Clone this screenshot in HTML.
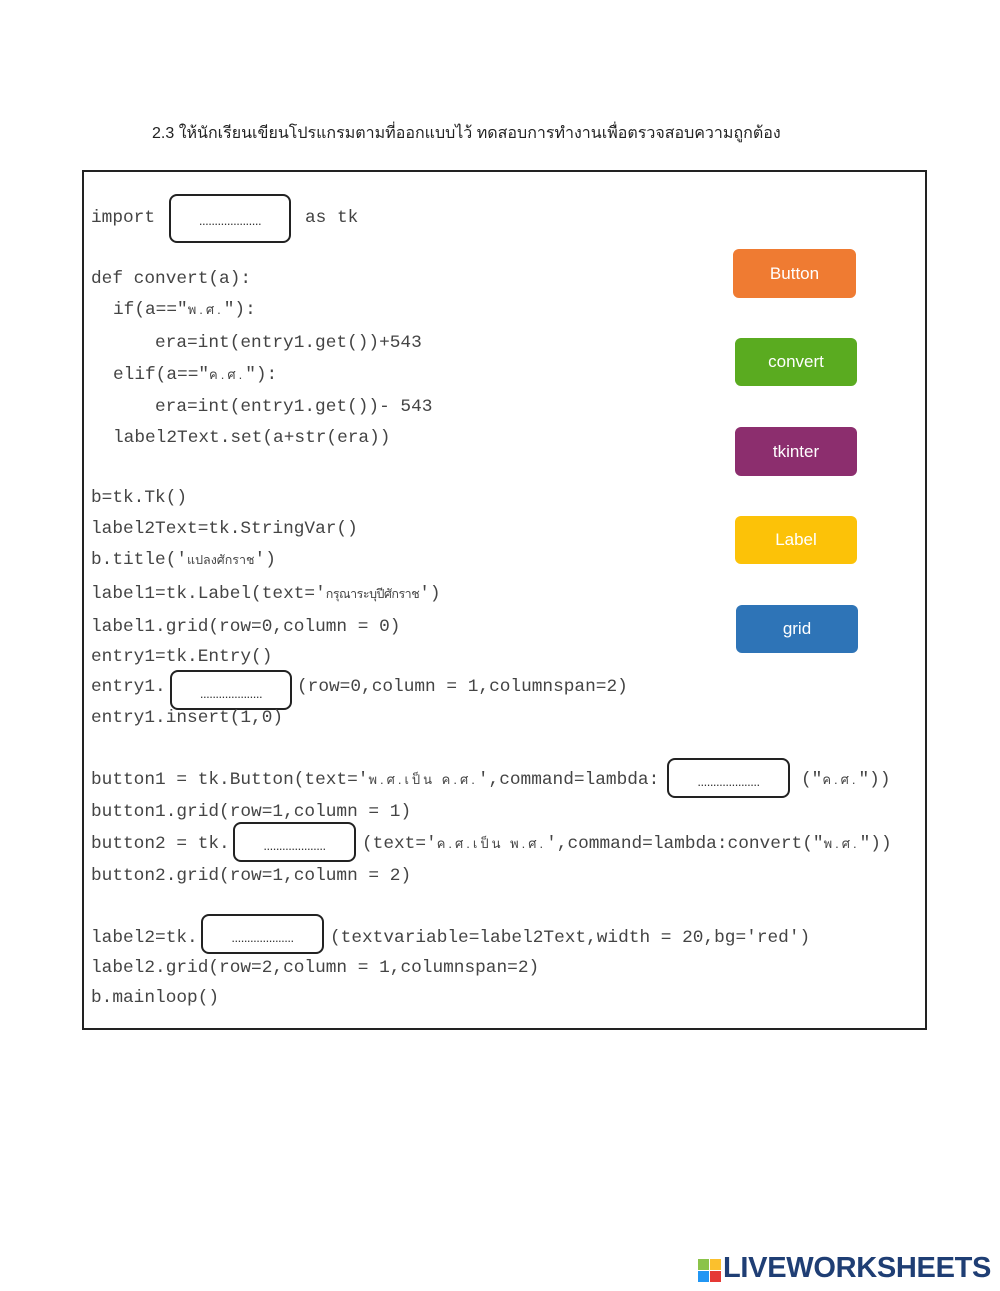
<!DOCTYPE html>
<html><head><meta charset="utf-8"><style>
body{margin:0;width:1000px;height:1291px;background:#fff;position:relative;overflow:hidden}
.c{position:absolute;font-family:"Liberation Mono","Noto Sans CJK SC",monospace;font-size:17.8px;color:#444;white-space:pre;line-height:20px}
.t{font-family:"Liberation Sans","DejaVu Sans",sans-serif;font-size:12.5px}
.s{font-family:"Liberation Sans","DejaVu Sans",sans-serif;font-size:13px;letter-spacing:3px}
.b{position:absolute;border:2px solid #222;border-radius:8px;box-sizing:border-box;text-align:center;font-family:"Liberation Sans",sans-serif;font-size:13px;color:#333;letter-spacing:-0.5px}
.btn{position:absolute;border-radius:6px;color:#fff;font-family:"Liberation Sans",sans-serif;font-size:17px;text-align:center;box-sizing:border-box}
</style></head><body>
<div style="position:absolute;left:152px;top:121px;font-family:'Liberation Sans','DejaVu Sans',sans-serif;font-size:16px;color:#222">2.3 ให้นักเรียนเขียนโปรแกรมตามที่ออกแบบไว้ ทดสอบการทำงานเพื่อตรวจสอบความถูกต้อง</div>
<div style="position:absolute;left:82px;top:170px;width:845px;height:860px;border:2px solid #222;box-sizing:border-box"></div>
<div class="c" style="left:91px;top:208px">import</div>
<div class="c" style="left:305px;top:208px">as tk</div>
<div class="b" style="left:169px;top:194px;width:122px;height:49px;line-height:50px">....................</div>
<div class="c" style="left:91px;top:269px">def convert(a):</div>
<div class="c" style="left:113px;top:300px">if(a=="<span class="s">พ.ศ.</span>"):</div>
<div class="c" style="left:155px;top:333px">era=int(entry1.get())+543</div>
<div class="c" style="left:113px;top:365px">elif(a=="<span class="s">ค.ศ.</span>"):</div>
<div class="c" style="left:155px;top:397px">era=int(entry1.get())- 543</div>
<div class="c" style="left:113px;top:428px">label2Text.set(a+str(era))</div>
<div class="c" style="left:91px;top:488px">b=tk.Tk()</div>
<div class="c" style="left:91px;top:519px">label2Text=tk.StringVar()</div>
<div class="c" style="left:91px;top:550px">b.title('<span class="t">แปลงศักราช</span>')</div>
<div class="c" style="left:91px;top:584px">label1=tk.Label(text='<span class="t" style="letter-spacing:-0.5px">กรุณาระบุปีศักราช</span>')</div>
<div class="c" style="left:91px;top:617px">label1.grid(row=0,column = 0)</div>
<div class="c" style="left:91px;top:647px">entry1=tk.Entry()</div>
<div class="c" style="left:91px;top:677px">entry1.</div>
<div class="b" style="left:170px;top:670px;width:122px;height:40px;line-height:44px">....................</div>
<div class="c" style="left:297px;top:677px">(row=0,column = 1,columnspan=2)</div>
<div class="c" style="left:91px;top:708px">entry1.insert(1,0)</div>
<div class="c" style="left:91px;top:770px">button1 = tk.Button(text='<span class="s">พ.ศ.เป็น ค.ศ.</span>',command=lambda:</div>
<div class="b" style="left:667px;top:758px;width:123px;height:40px;line-height:44px">....................</div>
<div class="c" style="left:801px;top:770px">("<span class="s">ค.ศ.</span>"))</div>
<div class="c" style="left:91px;top:802px">button1.grid(row=1,column = 1)</div>
<div class="c" style="left:91px;top:834px">button2 = tk.</div>
<div class="b" style="left:233px;top:822px;width:123px;height:40px;line-height:44px">....................</div>
<div class="c" style="left:362px;top:834px">(text='<span class="s">ค.ศ.เป็น พ.ศ.</span>',command=lambda:convert("<span class="s">พ.ศ.</span>"))</div>
<div class="c" style="left:91px;top:866px">button2.grid(row=1,column = 2)</div>
<div class="c" style="left:91px;top:928px">label2=tk.</div>
<div class="b" style="left:201px;top:914px;width:123px;height:40px;line-height:44px">....................</div>
<div class="c" style="left:330px;top:928px">(textvariable=label2Text,width = 20,bg='red')</div>
<div class="c" style="left:91px;top:958px">label2.grid(row=2,column = 1,columnspan=2)</div>
<div class="c" style="left:91px;top:988px">b.mainloop()</div>
<div class="btn" style="left:733px;top:249px;width:123px;height:49px;line-height:49px;background:#ef7b32">Button</div>
<div class="btn" style="left:735px;top:338px;width:122px;height:48px;line-height:48px;background:#5aab20">convert</div>
<div class="btn" style="left:735px;top:427px;width:122px;height:49px;line-height:49px;background:#8c2e6e">tkinter</div>
<div class="btn" style="left:735px;top:516px;width:122px;height:48px;line-height:48px;background:#fcc208">Label</div>
<div class="btn" style="left:736px;top:605px;width:122px;height:48px;line-height:48px;background:#2e74b7">grid</div>
<div style="position:absolute;left:698px;top:1259px;width:24px;height:24px">
<div style="position:absolute;left:0;top:0;width:11px;height:11px;background:#8bc34a"></div>
<div style="position:absolute;left:12px;top:0;width:11px;height:11px;background:#fbc02d"></div>
<div style="position:absolute;left:0;top:12px;width:11px;height:11px;background:#2196f3"></div>
<div style="position:absolute;left:12px;top:12px;width:11px;height:11px;background:#e53935"></div>
</div>
<div style="position:absolute;left:723px;top:1252px;font-family:'Liberation Sans',sans-serif;font-weight:bold;font-size:29px;color:#1f3e74;letter-spacing:-0.3px">LIVEWORKSHEETS</div>
</body></html>
